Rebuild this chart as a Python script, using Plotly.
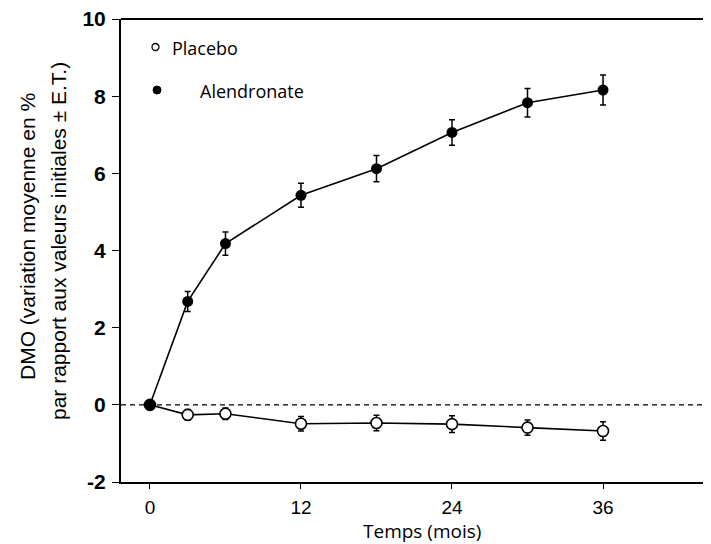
import plotly.graph_objects as go

months = [0, 3, 6, 12, 18, 24, 30, 36]
alendronate = [0, 2.68, 4.18, 5.43, 6.12, 7.06, 7.83, 8.16]
alendronate_err = [0, 0.26, 0.30, 0.31, 0.34, 0.33, 0.37, 0.39]
placebo = [0, -0.26, -0.23, -0.49, -0.47, -0.50, -0.59, -0.68]
placebo_err = [0, 0.14, 0.15, 0.19, 0.20, 0.22, 0.20, 0.24]
x_ticks = [0, 12, 24, 36]
y_ticks = [-2, 0, 2, 4, 6, 8, 10]

# the page body has an 8px margin, so the figure is drawn 8px smaller
OFF = 8
W, H = 711 - OFF, 544 - OFF
L, R, T, B = 121 - OFF, 0, 19 - OFF, 62

fig = go.Figure()
fig.add_trace(go.Scatter(
    x=months, y=placebo, mode="lines+markers",
    line=dict(color="black", width=1.6),
    marker=dict(size=11, color="white", line=dict(color="black", width=1.6)),
    error_y=dict(type="data", array=placebo_err, color="black", thickness=1.5, width=3),
    showlegend=False))
fig.add_trace(go.Scatter(
    x=months, y=alendronate, mode="lines+markers",
    line=dict(color="black", width=1.6),
    marker=dict(size=11, color="black"),
    error_y=dict(type="data", array=alendronate_err, color="black", thickness=1.5, width=3),
    showlegend=False))

# dashed zero line
fig.add_shape(type="line", xref="paper", x0=0, x1=1, yref="y", y0=0, y1=0,
              line=dict(color="black", width=1.3, dash="5px,4px"), layer="below")
# top border
fig.add_shape(type="line", xref="paper", x0=0, x1=1, yref="paper", y0=1, y1=1,
              line=dict(color="black", width=2))

pw = W - L - R
ph = H - T - B
def px(xs):  # screen pixel -> paper
    return (xs - OFF - L) / pw
def py(ys):
    return (H - B - (ys - OFF)) / ph

# legend
fig.add_shape(type="circle", xref="paper", yref="paper",
              x0=px(152), x1=px(159), y0=py(50.5), y1=py(43.5),
              line=dict(color="black", width=1.3), fillcolor="white")
fig.add_shape(type="circle", xref="paper", yref="paper",
              x0=px(153), x1=px(161), y0=py(94), y1=py(86),
              line=dict(color="black", width=1), fillcolor="black")
fig.add_annotation(text="Placebo", xref="paper", yref="paper", x=px(170), y=py(48),
                   xanchor="left", yanchor="middle", showarrow=False,
                   font=dict(family="Open Sans, Noto Sans, sans-serif", size=18, color="black"))
fig.add_annotation(text="Alendronate", xref="paper", yref="paper", x=px(198), y=py(91),
                   xanchor="left", yanchor="middle", showarrow=False,
                   font=dict(family="Open Sans, Noto Sans, sans-serif", size=18, color="black"))

# axis titles
yfont = dict(family="Liberation Sans Narrow, Arial Narrow, Liberation Sans, sans-serif",
             size=21, color="black")
fig.add_annotation(text="DMO (variation moyenne en %",
                   xref="paper", yref="paper", x=px(27), y=py(237), textangle=-90,
                   xanchor="center", yanchor="middle", showarrow=False, font=yfont)
fig.add_annotation(text="par rapport aux valeurs initiales ± E.T.)",
                   xref="paper", yref="paper", x=px(58), y=py(241), textangle=-90,
                   xanchor="center", yanchor="middle", showarrow=False, font=yfont)
fig.add_annotation(text="Temps (mois)", xref="paper", yref="paper", x=px(422), y=py(531),
                   xanchor="center", yanchor="middle", showarrow=False,
                   font=dict(family="Open Sans, Noto Sans, sans-serif", size=19, color="black"))

fig.update_layout(
    width=W, height=H,
    margin=dict(l=L, r=R, t=T, b=B),
    paper_bgcolor="white", plot_bgcolor="white",
    xaxis=dict(range=[-2.3, 44.58], tickvals=x_ticks, ticktext=[str(v) for v in x_ticks],
               showgrid=False, zeroline=False, showline=True, linecolor="black", linewidth=2,
               ticks="outside", ticklen=5, tickwidth=1.3, tickcolor="black",
               ticklabelstandoff=2, ticklabeloverflow="allow",
               tickfont=dict(family="Liberation Sans, Arial, sans-serif", size=19, color="black")),
    yaxis=dict(range=[-2, 10], tickvals=y_ticks, ticktext=["<b>%d</b>" % v for v in y_ticks],
               showgrid=False, zeroline=False, showline=True, linecolor="black", linewidth=2,
               ticks="outside", ticklen=7, tickwidth=1.3, tickcolor="black",
               ticklabelstandoff=2, ticklabeloverflow="allow",
               tickfont=dict(family="Liberation Sans, Arial, sans-serif", size=21, color="black")),
)

fig.write_html("out.html")
